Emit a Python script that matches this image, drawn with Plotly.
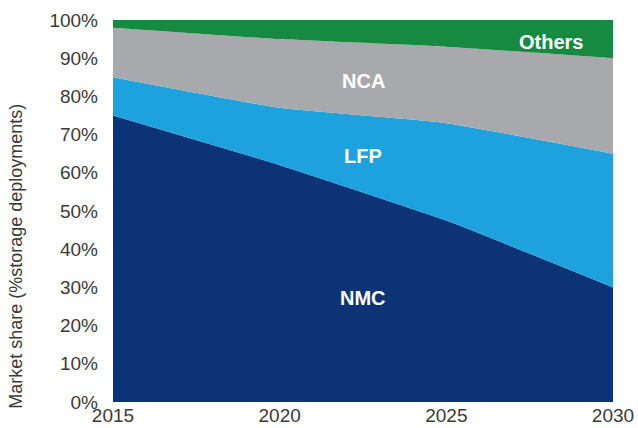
import plotly.graph_objects as go

years = [2015, 2020, 2025, 2030]
nmc = [75, 62, 47.5, 30]
lfp = [10, 15, 25.5, 35]
nca = [13, 18, 20, 25]
others = [2, 5, 7, 10]
y_ticks = list(range(0, 101, 10))
y_tick_text = ["%d%%" % v for v in y_ticks]

series = [("NMC", nmc, "#0B3376"), ("LFP", lfp, "#1DA2DE"),
          ("NCA", nca, "#A8A9AD"), ("Others", others, "#178A42")]

FONT = "Liberation Sans, Arial"

fig = go.Figure()
for name, vals, col in series:
    fig.add_trace(go.Scatter(x=years, y=vals, name=name, stackgroup="one",
                             mode="none", fillcolor=col,
                             line=dict(shape="spline", smoothing=0.4)))

labels = [("Others", 2028.14, 94.2), ("NCA", 2022.5, 84.0),
          ("LFP", 2022.5, 64.4), ("NMC", 2022.5, 27.2)]
for t, x, y in labels:
    fig.add_annotation(x=x, y=y, text="<b>%s</b>" % t, showarrow=False,
                       font=dict(color="white", size=20, family=FONT))

fig.add_annotation(xref="paper", yref="paper", x=-0.194, y=0.38,
                   xanchor="center", yanchor="middle", textangle=-90,
                   text="Market share (%storage deployments)", showarrow=False,
                   font=dict(size=18, family=FONT, color="#3a3a3a"))

fig.update_layout(
    width=638, height=428, showlegend=False,
    margin=dict(l=113, r=25, t=20, b=26, autoexpand=False),
    plot_bgcolor="white", paper_bgcolor="white",
    font=dict(family=FONT, size=19, color="#3a3a3a"),
    xaxis=dict(range=[2015, 2030], tickvals=years,
               showgrid=False, zeroline=False, ticks="", ticklen=0,
               ticklabelstandoff=0),
    yaxis=dict(range=[0, 100], tickvals=y_ticks, ticktext=y_tick_text,
               showgrid=False, zeroline=False, ticks="", ticklen=0,
               ticklabelstandoff=14),
)
fig.write_html("out.html", config={"displayModeBar": False, "staticPlot": True},
               post_script="document.body.style.margin='0px';document.body.style.overflow='hidden';")
